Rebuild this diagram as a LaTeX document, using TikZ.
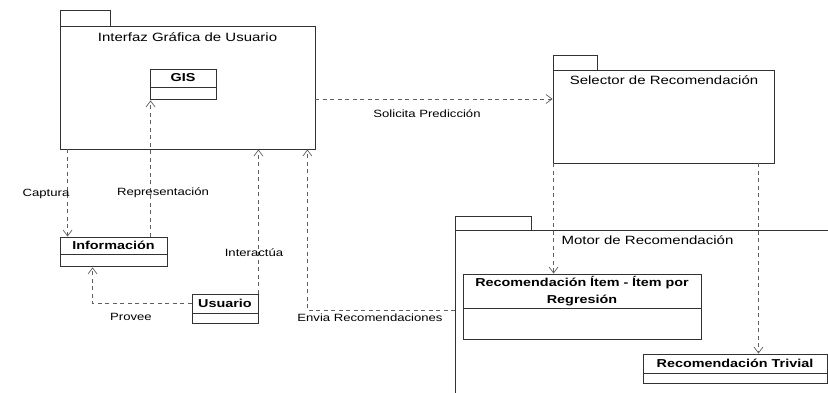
\documentclass[tikz,border=0pt]{standalone}
\usepackage{fontspec}
\setmainfont{Liberation Sans}[FakeStretch=1.25]
\usetikzlibrary{arrows.meta,positioning}
\definecolor{line_gray}{RGB}{95,95,95}
\definecolor{box_gray}{RGB}{50,50,50}
\newcommand\lbl{\fontsize{10.5}{12}\selectfont}
\newcommand\ttl{\fontsize{12}{14}\selectfont}
\newcommand\clsfont{\fontsize{11.5}{14}\selectfont\bfseries}

\begin{document}
\begin{tikzpicture}[x=1pt,y=-1pt,>={Straight Barb[length=6pt,width=9pt]}]
    \tikzstyle{pkg}=[draw=box_gray, rectangle, line width=0.9pt, inner sep=0pt]
    \tikzstyle{cls}=[draw=box_gray, rectangle, line width=0.9pt, inner sep=0pt, font=\clsfont, align=center]
    \tikzstyle{dep}=[->, draw=line_gray, line width=0.7pt, dash pattern=on 4pt off 3.5pt]
    \tikzstyle{lab}=[font=\lbl, text=black, inner sep=0pt]

    \clip (0,0) rectangle (828,392);

    % packages
    \node[pkg, minimum width=50pt, minimum height=16pt] (gui-tab) at (85,18) {};
    \node[pkg, minimum width=255pt, minimum height=123pt] (gui) at (187.5,87.5) {};
    \node[lab, font=\ttl] (gui-t) at (187.5,37) {Interfaz Gráfica de Usuario};

    \node[pkg, minimum width=44pt, minimum height=15pt] (sel-tab) at (575,62.5) {};
    \node[pkg, minimum width=221pt, minimum height=93pt] (sel) at (663.5,116.5) {};
    \node[lab, font=\ttl] (sel-t) at (664,80) {Selector de Recomendación};

    \node[pkg, minimum width=76pt, minimum height=14pt] (motor-tab) at (493,223) {};
    \node[pkg, anchor=north west, minimum width=420pt, minimum height=200pt] (motor) at (455,230) {};
    \node[lab, font=\ttl] (motor-t) at (647.5,240) {Motor de Recomendación};

    % classes
    \node[cls, minimum width=66pt, minimum height=18pt] (gis) at (183,78) {GIS};
    \node[cls, minimum width=66pt, minimum height=12pt, below=0pt of gis] (gisc) {};

    \node[cls, minimum width=107pt, minimum height=17pt] (info) at (113.5,245.5) {Información};
    \node[cls, minimum width=107pt, minimum height=12pt, below=0pt of info] (infoc) {};

    \node[cls, minimum width=66pt, minimum height=19pt] (usr) at (225,303.5) {Usuario};
    \node[cls, minimum width=66pt, minimum height=10pt, below=0pt of usr] (usrc) {};

    \node[cls, text width=238pt, minimum height=34pt, font=\fontsize{11.5}{17}\selectfont\bfseries] (item) at (582,291) {Recomendación Ítem - Ítem por\\Regresión};
    \node[cls, minimum width=238pt, minimum height=31pt, below=0pt of item] (itemc) {};

    \node[cls, minimum width=184pt, minimum height=19pt] (triv) at (735,363.5) {Recomendación Trivial};
    \node[cls, minimum width=184pt, minimum height=10pt, below=0pt of triv] (trivc) {};

    % dependencies
    \draw[dep] ([yshift=-11.5pt]gui.east) -- ([yshift=17.5pt]sel.west);
    \draw[dep] ([xshift=8pt]gui.south west) -- ([xshift=8pt]info.north west);
    \draw[dep] ([xshift=1pt]info.north -| gisc.south west) -- ([xshift=1pt]gisc.south west);
    \draw[dep] (usr.north east) -- (usr.north east |- gui.south);
    \draw[dep] (usr.west) -| ([xshift=33pt]infoc.south west);
    \draw[dep] ([yshift=20pt]motor.west) -| ([xshift=-8pt]gui.south east);
    \draw[dep] ([xshift=1pt]sel.south west) -- ([xshift=1pt]sel.south west |- item.north);
    \draw[dep] ([xshift=-16pt]sel.south east) -- ([xshift=-16pt]sel.south east |- triv.north);

    % labels
    \node[lab] (l-sol) at (427,114) {Solicita Predicción};
    \node[lab] (l-cap) at (46,194) {Captura};
    \node[lab] (l-rep) at (163,193) {Representación};
    \node[lab] (l-int) at (254,253) {Interactúa};
    \node[lab] (l-pro) at (131,317) {Provee};
    \node[lab] (l-env) at (370,318) {Envia Recomendaciones};
\end{tikzpicture}
\end{document}
